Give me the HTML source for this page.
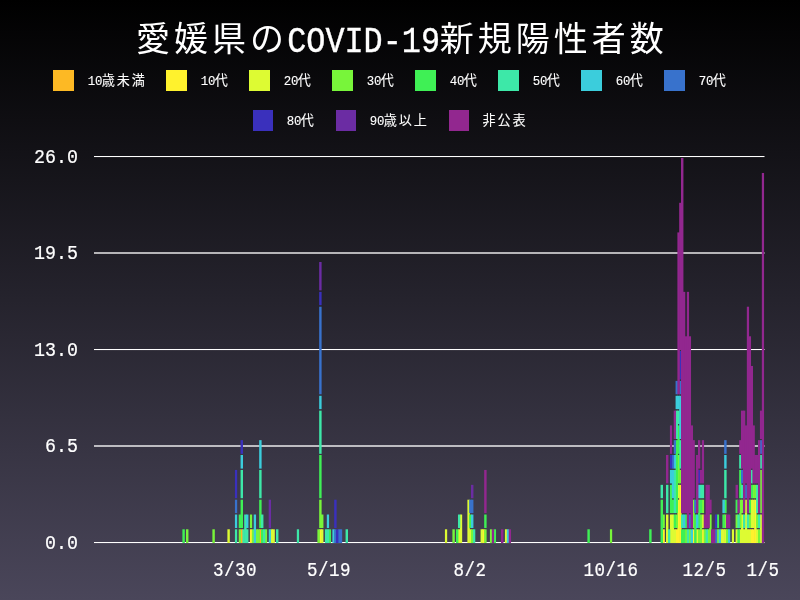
<!DOCTYPE html>
<html lang="ja">
<head>
<meta charset="utf-8">
<title>愛媛県のCOVID-19新規陽性者数</title>
<style>
html,body{margin:0;padding:0;}
body{width:800px;height:600px;overflow:hidden;background:#4a465a;}
#chart{display:block;width:800px;height:600px;}
text{fill:#fff;}
.mono{font-family:"Liberation Mono","Noto Sans CJK JP",monospace;}
.cjk{font-family:"Liberation Sans","Noto Sans CJK JP",sans-serif;}
</style>
</head>
<body>
<svg id="chart" width="800" height="600" viewBox="0 0 800 600">
<defs><linearGradient id="bg" x1="0" y1="0" x2="0" y2="1"><stop offset="0" stop-color="#000000"/><stop offset="1" stop-color="#4a465a"/></linearGradient></defs>
<rect x="0" y="0" width="800" height="600" fill="url(#bg)"/>
<g id="title">
<text class="cjk" font-size="34" y="51"><tspan x="135.9" letter-spacing="4">愛媛県の</tspan><tspan class="mono" x="287.2" y="52" font-size="36.6" textLength="152.8" lengthAdjust="spacingAndGlyphs" stroke="#fff" stroke-width="0.4">COVID-19</tspan><tspan x="439.75" y="51" letter-spacing="4">新規陽性者数</tspan></text>
</g>
<g id="legend">
<rect x="53" y="70" width="21" height="21" fill="#FDB924"/>
<text class="cjk" font-size="13.1" stroke="#fff" stroke-width="0.08"><tspan class="mono" x="87.7" y="84.9" font-size="12.4" stroke="#fff" stroke-width="0.12">10</tspan><tspan x="101.8" y="84.5" letter-spacing="1.9">歳未満</tspan></text>
<rect x="166" y="70" width="21" height="21" fill="#FFF22D"/>
<text class="cjk" font-size="13.1" stroke="#fff" stroke-width="0.08"><tspan class="mono" x="200.7" y="84.9" font-size="12.4" stroke="#fff" stroke-width="0.12">10</tspan><tspan x="214.8" y="84.5" letter-spacing="1.9">代</tspan></text>
<rect x="249" y="70" width="21" height="21" fill="#DDFB33"/>
<text class="cjk" font-size="13.1" stroke="#fff" stroke-width="0.08"><tspan class="mono" x="283.7" y="84.9" font-size="12.4" stroke="#fff" stroke-width="0.12">20</tspan><tspan x="297.8" y="84.5" letter-spacing="1.9">代</tspan></text>
<rect x="332" y="70" width="21" height="21" fill="#78F53A"/>
<text class="cjk" font-size="13.1" stroke="#fff" stroke-width="0.08"><tspan class="mono" x="366.7" y="84.9" font-size="12.4" stroke="#fff" stroke-width="0.12">30</tspan><tspan x="380.8" y="84.5" letter-spacing="1.9">代</tspan></text>
<rect x="415" y="70" width="21" height="21" fill="#3FF055"/>
<text class="cjk" font-size="13.1" stroke="#fff" stroke-width="0.08"><tspan class="mono" x="449.7" y="84.9" font-size="12.4" stroke="#fff" stroke-width="0.12">40</tspan><tspan x="463.8" y="84.5" letter-spacing="1.9">代</tspan></text>
<rect x="498" y="70" width="21" height="21" fill="#3DE8A8"/>
<text class="cjk" font-size="13.1" stroke="#fff" stroke-width="0.08"><tspan class="mono" x="532.7" y="84.9" font-size="12.4" stroke="#fff" stroke-width="0.12">50</tspan><tspan x="546.8" y="84.5" letter-spacing="1.9">代</tspan></text>
<rect x="581" y="70" width="21" height="21" fill="#3BCDDC"/>
<text class="cjk" font-size="13.1" stroke="#fff" stroke-width="0.08"><tspan class="mono" x="615.7" y="84.9" font-size="12.4" stroke="#fff" stroke-width="0.12">60</tspan><tspan x="629.8" y="84.5" letter-spacing="1.9">代</tspan></text>
<rect x="664" y="70" width="21" height="21" fill="#3872CC"/>
<text class="cjk" font-size="13.1" stroke="#fff" stroke-width="0.08"><tspan class="mono" x="698.7" y="84.9" font-size="12.4" stroke="#fff" stroke-width="0.12">70</tspan><tspan x="712.8" y="84.5" letter-spacing="1.9">代</tspan></text>
<rect x="253" y="110" width="20" height="21" fill="#3A30BC"/>
<text class="cjk" font-size="13.1" stroke="#fff" stroke-width="0.08"><tspan class="mono" x="286.7" y="124.9" font-size="12.4" stroke="#fff" stroke-width="0.12">80</tspan><tspan x="300.8" y="124.5" letter-spacing="1.9">代</tspan></text>
<rect x="336" y="110" width="20" height="21" fill="#6B2CA3"/>
<text class="cjk" font-size="13.1" stroke="#fff" stroke-width="0.08"><tspan class="mono" x="369.7" y="124.9" font-size="12.4" stroke="#fff" stroke-width="0.12">90</tspan><tspan x="383.8" y="124.5" letter-spacing="1.9">歳以上</tspan></text>
<rect x="449" y="110" width="20" height="21" fill="#92278F"/>
<text class="cjk" font-size="13.1" stroke="#fff" stroke-width="0.08"><tspan x="482.6" y="124.5" letter-spacing="1.9">非公表</tspan></text>
</g>
<g id="grid">
<rect x="94" y="156" width="670.5" height="1" fill="#ffffff"/>
<rect x="94" y="157" width="670.5" height="1" fill="rgba(255,255,255,0.06)"/>
<rect x="94" y="252" width="670.5" height="2" fill="rgba(255,255,255,0.67)"/>
<rect x="94" y="349" width="670.5" height="1" fill="#ffffff"/>
<rect x="94" y="350" width="670.5" height="1" fill="rgba(255,255,255,0.06)"/>
<rect x="94" y="445" width="670.5" height="2" fill="rgba(255,255,255,0.67)"/>
<rect x="94" y="542" width="670.5" height="1" fill="#ffffff"/>
<rect x="94" y="543" width="670.5" height="1" fill="rgba(255,255,255,0.06)"/>
</g>
<g id="ylabels">
<text class="mono" font-size="18.3" text-anchor="end" stroke="#fff" stroke-width="0.2" stroke-linejoin="round" transform="translate(78 163) scale(1 1.15)">26.0</text>
<text class="mono" font-size="18.3" text-anchor="end" stroke="#fff" stroke-width="0.2" stroke-linejoin="round" transform="translate(78 259.3) scale(1 1.15)">19.5</text>
<text class="mono" font-size="18.3" text-anchor="end" stroke="#fff" stroke-width="0.2" stroke-linejoin="round" transform="translate(78 356) scale(1 1.15)">13.0</text>
<text class="mono" font-size="18.3" text-anchor="end" stroke="#fff" stroke-width="0.2" stroke-linejoin="round" transform="translate(78 452.3) scale(1 1.15)">6.5</text>
<text class="mono" font-size="18.3" text-anchor="end" stroke="#fff" stroke-width="0.2" stroke-linejoin="round" transform="translate(78 549) scale(1 1.15)">0.0</text>
</g>
<g id="xlabels">
<text class="mono" font-size="18.3" text-anchor="middle" letter-spacing="0.48" stroke="#fff" stroke-width="0.2" stroke-linejoin="round" transform="translate(235 575.7) scale(0.96 1.12)">3/30</text>
<text class="mono" font-size="18.3" text-anchor="middle" letter-spacing="0.48" stroke="#fff" stroke-width="0.2" stroke-linejoin="round" transform="translate(329 575.7) scale(0.96 1.12)">5/19</text>
<text class="mono" font-size="18.3" text-anchor="middle" letter-spacing="0.48" stroke="#fff" stroke-width="0.2" stroke-linejoin="round" transform="translate(470 575.7) scale(0.96 1.12)">8/2</text>
<text class="mono" font-size="18.3" text-anchor="middle" letter-spacing="0.48" stroke="#fff" stroke-width="0.2" stroke-linejoin="round" transform="translate(611 575.7) scale(0.96 1.12)">10/16</text>
<text class="mono" font-size="18.3" text-anchor="middle" letter-spacing="0.48" stroke="#fff" stroke-width="0.2" stroke-linejoin="round" transform="translate(704.5 575.7) scale(0.96 1.12)">12/5</text>
<text class="mono" font-size="18.3" text-anchor="middle" letter-spacing="0.48" stroke="#fff" stroke-width="0.2" stroke-linejoin="round" transform="translate(763 575.7) scale(0.96 1.12)">1/5</text>
</g>
<g id="bars">
<g fill="#FDB924">
<rect x="240.57" y="529.28" width="2.43" height="13.72"/>
<rect x="259.18" y="529.28" width="2.43" height="13.72"/>
</g>
<g fill="#FFF22D">
<rect x="249.92" y="529.28" width="2.24" height="13.72"/>
<rect x="319.18" y="529.28" width="2.43" height="13.72"/>
<rect x="482.39" y="529.28" width="2.43" height="13.72"/>
<rect x="662.39" y="529.28" width="2.43" height="13.72"/>
<rect x="675.57" y="529.28" width="2.43" height="13.72"/>
<rect x="677.39" y="499.71" width="2.43" height="43.29"/>
<rect x="679.18" y="484.85" width="2.43" height="58.15"/>
<rect x="692.39" y="529.28" width="2.43" height="13.72"/>
<rect x="701.83" y="529.28" width="2.24" height="13.72"/>
<rect x="750.57" y="529.28" width="2.43" height="13.72"/>
<rect x="752.39" y="529.28" width="2.43" height="13.72"/>
<rect x="754.18" y="499.71" width="2.43" height="43.29"/>
</g>
<g fill="#DDFB33">
<rect x="227.39" y="529.28" width="2.43" height="13.72"/>
<rect x="270.57" y="529.28" width="2.43" height="13.72"/>
<rect x="272.39" y="529.28" width="2.43" height="13.72"/>
<rect x="321.00" y="529.28" width="2.43" height="13.72"/>
<rect x="444.92" y="529.28" width="2.24" height="13.72"/>
<rect x="457.98" y="529.28" width="2.31" height="13.72"/>
<rect x="459.92" y="514.52" width="2.24" height="28.48"/>
<rect x="467.39" y="499.71" width="2.43" height="43.29"/>
<rect x="469.18" y="529.28" width="2.43" height="13.72"/>
<rect x="480.57" y="529.28" width="2.43" height="13.72"/>
<rect x="504.92" y="529.28" width="2.24" height="13.72"/>
<rect x="666.00" y="514.52" width="2.43" height="28.48"/>
<rect x="669.92" y="514.52" width="2.24" height="28.48"/>
<rect x="671.83" y="514.52" width="2.24" height="28.48"/>
<rect x="673.72" y="529.28" width="2.31" height="13.72"/>
<rect x="677.39" y="484.85" width="2.43" height="13.36"/>
<rect x="696.00" y="529.28" width="2.43" height="13.72"/>
<rect x="701.83" y="514.52" width="2.24" height="13.50"/>
<rect x="720.57" y="529.28" width="2.43" height="13.72"/>
<rect x="722.39" y="529.28" width="2.43" height="13.72"/>
<rect x="724.18" y="529.28" width="2.43" height="13.72"/>
<rect x="731.83" y="529.28" width="2.24" height="13.72"/>
<rect x="735.57" y="529.28" width="2.43" height="13.72"/>
<rect x="739.18" y="529.28" width="2.43" height="13.72"/>
<rect x="741.00" y="514.52" width="2.43" height="28.48"/>
<rect x="742.98" y="529.28" width="2.31" height="13.72"/>
<rect x="744.92" y="499.71" width="2.24" height="43.29"/>
<rect x="746.83" y="529.28" width="2.24" height="13.72"/>
<rect x="748.72" y="529.28" width="2.31" height="13.72"/>
<rect x="750.57" y="499.71" width="2.43" height="28.31"/>
<rect x="752.39" y="499.71" width="2.43" height="28.31"/>
<rect x="756.00" y="529.28" width="2.43" height="13.72"/>
<rect x="759.92" y="514.52" width="2.24" height="28.48"/>
</g>
<g fill="#78F53A">
<rect x="186.00" y="529.28" width="2.43" height="13.72"/>
<rect x="212.39" y="529.28" width="2.43" height="13.72"/>
<rect x="238.72" y="529.28" width="2.31" height="13.72"/>
<rect x="249.92" y="514.52" width="2.24" height="13.50"/>
<rect x="251.83" y="529.28" width="2.24" height="13.72"/>
<rect x="255.57" y="529.28" width="2.43" height="13.72"/>
<rect x="257.39" y="529.28" width="2.43" height="13.72"/>
<rect x="264.92" y="529.28" width="2.24" height="13.72"/>
<rect x="317.39" y="529.28" width="2.43" height="13.72"/>
<rect x="319.18" y="499.71" width="2.43" height="28.31"/>
<rect x="321.00" y="514.52" width="2.43" height="13.50"/>
<rect x="452.39" y="529.28" width="2.43" height="13.72"/>
<rect x="471.00" y="529.28" width="2.43" height="13.72"/>
<rect x="484.18" y="529.28" width="2.43" height="13.72"/>
<rect x="489.92" y="529.28" width="2.24" height="13.72"/>
<rect x="609.92" y="529.28" width="2.24" height="13.72"/>
<rect x="662.39" y="514.52" width="2.43" height="13.50"/>
<rect x="675.57" y="514.52" width="2.43" height="13.50"/>
<rect x="677.39" y="454.99" width="2.43" height="28.38"/>
<rect x="679.18" y="469.95" width="2.43" height="13.43"/>
<rect x="684.92" y="529.28" width="2.24" height="13.72"/>
<rect x="688.72" y="529.28" width="2.31" height="13.72"/>
<rect x="692.39" y="499.71" width="2.43" height="28.31"/>
<rect x="697.98" y="529.28" width="2.31" height="13.72"/>
<rect x="699.92" y="514.52" width="2.24" height="28.48"/>
<rect x="701.83" y="499.71" width="2.24" height="13.38"/>
<rect x="703.72" y="529.28" width="2.31" height="13.72"/>
<rect x="707.39" y="529.28" width="2.43" height="13.72"/>
<rect x="709.18" y="514.52" width="2.43" height="28.48"/>
<rect x="716.83" y="529.28" width="2.24" height="13.72"/>
<rect x="724.18" y="514.52" width="2.43" height="13.50"/>
<rect x="726.00" y="529.28" width="2.43" height="13.72"/>
<rect x="735.57" y="514.52" width="2.43" height="13.50"/>
<rect x="739.18" y="499.71" width="2.43" height="28.31"/>
<rect x="741.00" y="499.71" width="2.43" height="13.38"/>
<rect x="748.72" y="514.52" width="2.31" height="13.50"/>
<rect x="752.39" y="484.85" width="2.43" height="13.36"/>
<rect x="754.18" y="484.85" width="2.43" height="13.36"/>
<rect x="756.00" y="514.52" width="2.43" height="13.50"/>
<rect x="757.98" y="529.28" width="2.31" height="13.72"/>
<rect x="759.92" y="469.95" width="2.24" height="43.15"/>
</g>
<g fill="#3FF055">
<rect x="182.39" y="529.28" width="2.43" height="13.72"/>
<rect x="238.72" y="514.52" width="2.31" height="13.50"/>
<rect x="240.57" y="499.71" width="2.43" height="28.31"/>
<rect x="259.18" y="499.71" width="2.43" height="28.31"/>
<rect x="261.00" y="529.28" width="2.43" height="13.72"/>
<rect x="319.18" y="454.99" width="2.43" height="43.22"/>
<rect x="328.72" y="529.28" width="2.31" height="13.72"/>
<rect x="456.00" y="529.28" width="2.43" height="13.72"/>
<rect x="469.18" y="514.52" width="2.43" height="13.50"/>
<rect x="484.18" y="514.52" width="2.43" height="13.50"/>
<rect x="493.72" y="529.28" width="2.31" height="13.72"/>
<rect x="587.39" y="529.28" width="2.43" height="13.72"/>
<rect x="649.18" y="529.28" width="2.43" height="13.72"/>
<rect x="660.57" y="499.71" width="2.43" height="43.29"/>
<rect x="669.92" y="484.85" width="2.24" height="28.24"/>
<rect x="671.83" y="499.71" width="2.24" height="13.38"/>
<rect x="673.72" y="514.52" width="2.31" height="13.50"/>
<rect x="675.57" y="440.15" width="2.43" height="72.95"/>
<rect x="677.39" y="425.41" width="2.43" height="28.44"/>
<rect x="681.00" y="529.28" width="2.43" height="13.72"/>
<rect x="682.98" y="529.28" width="2.31" height="13.72"/>
<rect x="684.92" y="514.52" width="2.24" height="13.50"/>
<rect x="694.18" y="514.52" width="2.43" height="28.48"/>
<rect x="697.98" y="499.71" width="2.31" height="28.31"/>
<rect x="699.92" y="499.71" width="2.24" height="13.38"/>
<rect x="716.83" y="514.52" width="2.24" height="13.50"/>
<rect x="722.39" y="514.52" width="2.43" height="13.50"/>
<rect x="724.18" y="499.71" width="2.43" height="13.38"/>
<rect x="735.57" y="499.71" width="2.43" height="13.38"/>
<rect x="737.39" y="529.28" width="2.43" height="13.72"/>
<rect x="739.18" y="469.95" width="2.43" height="28.27"/>
<rect x="748.72" y="499.71" width="2.31" height="13.38"/>
<rect x="750.57" y="484.85" width="2.43" height="13.36"/>
</g>
<g fill="#3DE8A8">
<rect x="234.92" y="529.28" width="2.24" height="13.72"/>
<rect x="240.57" y="469.95" width="2.43" height="28.27"/>
<rect x="242.39" y="529.28" width="2.43" height="13.72"/>
<rect x="244.18" y="514.52" width="2.43" height="28.48"/>
<rect x="246.00" y="529.28" width="2.43" height="13.72"/>
<rect x="259.18" y="469.95" width="2.43" height="28.27"/>
<rect x="261.00" y="514.52" width="2.43" height="13.50"/>
<rect x="262.98" y="529.28" width="2.31" height="13.72"/>
<rect x="276.00" y="529.28" width="2.43" height="13.72"/>
<rect x="296.83" y="529.28" width="2.24" height="13.72"/>
<rect x="319.18" y="410.62" width="2.43" height="43.23"/>
<rect x="324.92" y="529.28" width="2.24" height="13.72"/>
<rect x="326.83" y="529.28" width="2.24" height="13.72"/>
<rect x="345.57" y="529.28" width="2.43" height="13.72"/>
<rect x="457.98" y="514.52" width="2.31" height="13.50"/>
<rect x="472.98" y="529.28" width="2.31" height="13.72"/>
<rect x="660.57" y="484.85" width="2.43" height="13.36"/>
<rect x="666.00" y="484.85" width="2.43" height="28.24"/>
<rect x="667.98" y="529.28" width="2.31" height="13.72"/>
<rect x="673.72" y="469.95" width="2.31" height="43.15"/>
<rect x="675.57" y="410.62" width="2.43" height="28.38"/>
<rect x="677.39" y="410.62" width="2.43" height="13.43"/>
<rect x="679.18" y="440.15" width="2.43" height="28.44"/>
<rect x="681.00" y="514.52" width="2.43" height="13.50"/>
<rect x="686.83" y="529.28" width="2.24" height="13.72"/>
<rect x="699.92" y="484.85" width="2.24" height="13.36"/>
<rect x="701.83" y="484.85" width="2.24" height="13.36"/>
<rect x="705.57" y="529.28" width="2.43" height="13.72"/>
<rect x="724.18" y="469.95" width="2.43" height="28.27"/>
<rect x="737.39" y="514.52" width="2.43" height="13.50"/>
<rect x="739.18" y="454.99" width="2.43" height="13.60"/>
<rect x="741.00" y="484.85" width="2.43" height="13.36"/>
<rect x="742.98" y="514.52" width="2.31" height="13.50"/>
<rect x="746.83" y="514.52" width="2.24" height="13.50"/>
<rect x="750.57" y="469.95" width="2.43" height="13.43"/>
<rect x="756.00" y="484.85" width="2.43" height="28.24"/>
<rect x="757.98" y="514.52" width="2.31" height="13.50"/>
<rect x="759.92" y="454.99" width="2.24" height="13.60"/>
</g>
<g fill="#3BCDDC">
<rect x="234.92" y="514.52" width="2.24" height="13.50"/>
<rect x="240.57" y="454.99" width="2.43" height="13.60"/>
<rect x="246.00" y="514.52" width="2.43" height="13.50"/>
<rect x="253.72" y="514.52" width="2.31" height="28.48"/>
<rect x="259.18" y="440.15" width="2.43" height="28.44"/>
<rect x="268.72" y="529.28" width="2.31" height="13.72"/>
<rect x="319.18" y="395.79" width="2.43" height="13.36"/>
<rect x="326.83" y="514.52" width="2.24" height="13.50"/>
<rect x="332.39" y="529.28" width="2.43" height="13.72"/>
<rect x="471.00" y="514.52" width="2.43" height="13.50"/>
<rect x="506.83" y="529.28" width="2.24" height="13.72"/>
<rect x="669.92" y="469.95" width="2.24" height="13.43"/>
<rect x="671.83" y="469.95" width="2.24" height="28.27"/>
<rect x="673.72" y="454.99" width="2.31" height="13.60"/>
<rect x="675.57" y="395.79" width="2.43" height="13.36"/>
<rect x="677.39" y="395.79" width="2.43" height="13.36"/>
<rect x="679.18" y="395.79" width="2.43" height="43.22"/>
<rect x="682.98" y="514.52" width="2.31" height="13.50"/>
<rect x="690.57" y="529.28" width="2.43" height="13.72"/>
<rect x="696.00" y="514.52" width="2.43" height="13.50"/>
<rect x="697.98" y="484.85" width="2.31" height="13.36"/>
<rect x="718.72" y="529.28" width="2.31" height="13.72"/>
<rect x="722.39" y="499.71" width="2.43" height="13.38"/>
<rect x="724.18" y="454.99" width="2.43" height="13.60"/>
<rect x="727.98" y="529.28" width="2.31" height="13.72"/>
</g>
<g fill="#3872CC">
<rect x="234.92" y="499.71" width="2.24" height="13.38"/>
<rect x="319.18" y="306.71" width="2.43" height="87.58"/>
<rect x="334.18" y="529.28" width="2.43" height="13.72"/>
<rect x="337.98" y="529.28" width="2.31" height="13.72"/>
<rect x="339.92" y="529.28" width="2.24" height="13.72"/>
<rect x="469.18" y="499.71" width="2.43" height="13.38"/>
<rect x="471.00" y="499.71" width="2.43" height="13.38"/>
<rect x="671.83" y="454.99" width="2.24" height="13.60"/>
<rect x="673.72" y="440.15" width="2.31" height="13.70"/>
<rect x="675.57" y="380.91" width="2.43" height="13.38"/>
<rect x="679.18" y="380.91" width="2.43" height="13.38"/>
<rect x="688.72" y="514.52" width="2.31" height="13.50"/>
<rect x="694.18" y="499.71" width="2.43" height="13.38"/>
<rect x="714.92" y="529.28" width="2.24" height="13.72"/>
<rect x="724.18" y="440.15" width="2.43" height="13.70"/>
<rect x="741.00" y="469.95" width="2.43" height="13.43"/>
<rect x="744.92" y="484.85" width="2.24" height="13.36"/>
<rect x="759.92" y="440.15" width="2.24" height="13.70"/>
</g>
<g fill="#3A30BC">
<rect x="234.92" y="469.95" width="2.24" height="28.27"/>
<rect x="240.57" y="440.15" width="2.43" height="13.70"/>
<rect x="319.18" y="291.85" width="2.43" height="13.36"/>
<rect x="334.18" y="499.71" width="2.43" height="28.31"/>
<rect x="336.00" y="529.28" width="2.43" height="13.72"/>
<rect x="669.92" y="454.99" width="2.24" height="13.60"/>
<rect x="679.18" y="351.00" width="2.43" height="28.48"/>
<rect x="697.98" y="469.95" width="2.31" height="13.43"/>
<rect x="714.92" y="514.52" width="2.24" height="13.50"/>
</g>
<g fill="#6B2CA3">
<rect x="268.72" y="499.71" width="2.31" height="28.31"/>
<rect x="319.18" y="261.99" width="2.43" height="28.38"/>
<rect x="471.00" y="484.85" width="2.43" height="13.36"/>
</g>
<g fill="#92278F">
<rect x="484.18" y="469.95" width="2.43" height="43.15"/>
<rect x="491.83" y="529.28" width="2.24" height="13.72"/>
<rect x="501.00" y="529.28" width="2.43" height="13.72"/>
<rect x="508.72" y="529.28" width="2.31" height="13.72"/>
<rect x="666.00" y="454.99" width="2.43" height="28.38"/>
<rect x="669.92" y="425.41" width="2.24" height="28.44"/>
<rect x="673.72" y="410.62" width="2.31" height="28.38"/>
<rect x="677.39" y="232.41" width="2.43" height="161.88"/>
<rect x="679.18" y="202.79" width="2.43" height="147.21"/>
<rect x="681.00" y="158.00" width="2.43" height="355.09"/>
<rect x="682.98" y="291.85" width="2.31" height="221.24"/>
<rect x="684.92" y="336.28" width="2.24" height="176.81"/>
<rect x="686.83" y="291.85" width="2.24" height="236.17"/>
<rect x="688.72" y="336.28" width="2.31" height="176.81"/>
<rect x="690.57" y="425.41" width="2.43" height="102.62"/>
<rect x="692.39" y="440.15" width="2.43" height="58.07"/>
<rect x="696.00" y="454.99" width="2.43" height="58.10"/>
<rect x="697.98" y="440.15" width="2.31" height="28.44"/>
<rect x="699.92" y="469.95" width="2.24" height="13.43"/>
<rect x="701.83" y="440.15" width="2.24" height="43.23"/>
<rect x="703.72" y="514.52" width="2.31" height="13.50"/>
<rect x="705.57" y="484.85" width="2.43" height="43.17"/>
<rect x="707.39" y="484.85" width="2.43" height="43.17"/>
<rect x="709.18" y="499.71" width="2.43" height="13.38"/>
<rect x="711.00" y="529.28" width="2.43" height="13.72"/>
<rect x="712.98" y="529.28" width="2.31" height="13.72"/>
<rect x="726.00" y="514.52" width="2.43" height="13.50"/>
<rect x="727.98" y="514.52" width="2.31" height="13.50"/>
<rect x="735.57" y="484.85" width="2.43" height="13.36"/>
<rect x="737.39" y="499.71" width="2.43" height="13.38"/>
<rect x="739.18" y="440.15" width="2.43" height="13.70"/>
<rect x="741.00" y="410.62" width="2.43" height="57.97"/>
<rect x="742.98" y="410.62" width="2.31" height="102.47"/>
<rect x="744.92" y="425.41" width="2.24" height="57.97"/>
<rect x="746.83" y="306.71" width="2.24" height="206.38"/>
<rect x="748.72" y="336.28" width="2.31" height="161.93"/>
<rect x="750.57" y="365.98" width="2.43" height="102.62"/>
<rect x="752.39" y="425.41" width="2.43" height="57.97"/>
<rect x="754.18" y="454.99" width="2.43" height="28.38"/>
<rect x="756.00" y="454.99" width="2.43" height="28.38"/>
<rect x="757.98" y="440.15" width="2.31" height="72.95"/>
<rect x="759.92" y="410.62" width="2.24" height="28.38"/>
<rect x="761.83" y="172.98" width="2.24" height="370.02"/>
</g>
</g>
</svg>
</body>
</html>
